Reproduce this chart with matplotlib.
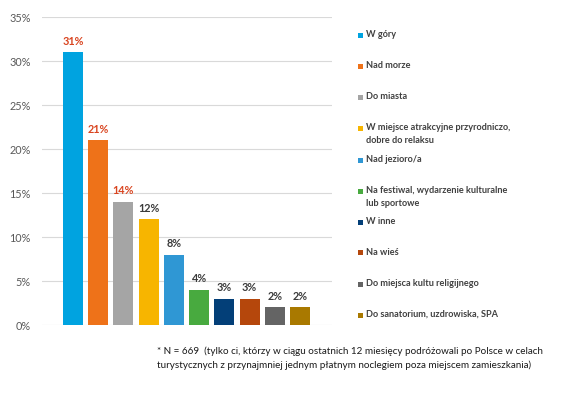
import matplotlib
matplotlib.use("Agg")
import matplotlib.pyplot as plt
from matplotlib.patches import Rectangle

categories = [
    "W góry",
    "Nad morze",
    "Do miasta",
    "W miejsce atrakcyjne przyrodniczo,\ndobre do relaksu",
    "Nad jezioro/a",
    "Na festiwal, wydarzenie kulturalne\nlub sportowe",
    "W inne",
    "Na wieś",
    "Do miejsca kultu religijnego",
    "Do sanatorium, uzdrowiska, SPA",
]
values = [31, 21, 14, 12, 8, 4, 3, 3, 2, 2]
value_labels = ["31%", "21%", "14%", "12%", "8%", "4%", "3%", "3%", "2%", "2%"]
colors = ["#00A3E0", "#EE7219", "#A5A5A5", "#F7B500", "#2F97D4",
          "#48AA3F", "#033F78", "#B5470C", "#646464", "#A97900"]
label_colors = ["#D9441F", "#D9441F", "#D9441F"] + ["#3A3A3A"] * 7
yticks = [0, 5, 10, 15, 20, 25, 30, 35]
ytick_labels = ["0%", "5%", "10%", "15%", "20%", "25%", "30%", "35%"]
footnote = ("* N = 669  (tylko ci, którzy w ciągu ostatnich 12 miesięcy podróżowali po Polsce w celach\n"
            "turystycznych z przynajmniej jednym płatnym noclegiem poza miejscem zamieszkania)")

plt.rcParams['font.family'] = ['Lato', 'DejaVu Sans']

W, H = 562, 393
fig = plt.figure(figsize=(W / 100, H / 100), dpi=100)
fig.patch.set_facecolor("white")

ax = fig.add_axes([42 / W, 1 - 325 / H, (332 - 42) / W, (325 - 17) / H])
x = list(range(len(values)))
bars = ax.bar(x, values, width=0.79, color=colors, zorder=3)
ax.set_xlim(-1.23, 10.27)
ax.set_ylim(0, 35)
ax.set_yticks(yticks)
ax.set_yticklabels(ytick_labels, color="#595959", fontsize=7.8)
ax.set_xticks([])
ax.tick_params(axis="y", length=0, pad=8)
for s in ax.spines.values():
    s.set_visible(False)
ax.grid(axis="y", color="#D9D9D9", linewidth=0.8, zorder=0)
ax.set_axisbelow(True)

for xi, v, lab, c in zip(x, values, value_labels, label_colors):
    ax.annotate(lab, (xi, v), xytext=(0, 4), textcoords="offset points",
                ha="center", va="bottom", fontsize=7.8, fontweight="bold", color=c)

# legend (manual)
ys = [35, 66, 97, 128, 160, 191, 222, 253, 284, 315]
for yy, cat, col in zip(ys, categories, colors):
    fig.patches.append(Rectangle((358 / W, 1 - (yy + 2.5) / H), 5 / W, 5 / H,
                                 transform=fig.transFigure, facecolor=col, edgecolor="none"))
    fig.text(366 / W, 1 - (yy - 5) / H, cat, ha="left", va="top", fontsize=6.6,
             fontweight="bold", color="#404040", linespacing=1.55)

fig.text(157 / W, 1 - 346 / H, footnote, ha="left", va="top", fontsize=7.1,
         color="#1A1A1A", linespacing=1.6)

fig.savefig("out.png", dpi=100)
